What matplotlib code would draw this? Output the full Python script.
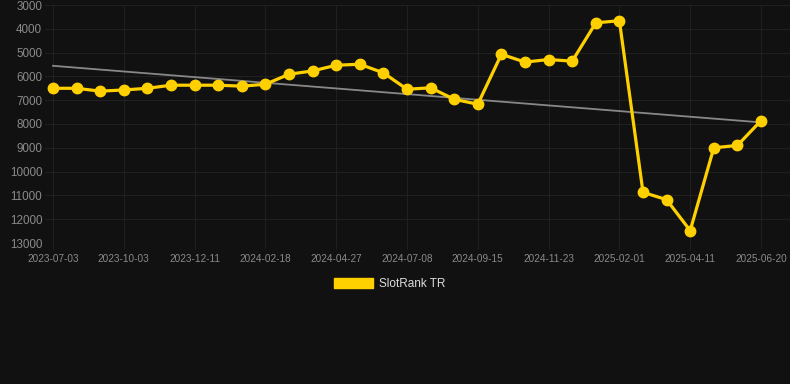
import numpy as np
import matplotlib.pyplot as plt

plt.rcParams['font.family'] = ['Liberation Sans', 'DejaVu Sans']

tick_labels = ['2023-07-03', '2023-10-03', '2023-12-11', '2024-02-18', '2024-04-27',
               '2024-07-08', '2024-09-15', '2024-11-23', '2025-02-01', '2025-04-11',
               '2025-06-20']

# SlotRank TR, one point per step, a label every 3rd step
rank = [6500, 6500, 6620, 6570, 6500, 6370, 6370, 6370, 6410, 6330,
        5910, 5770, 5530, 5490, 5850, 6540, 6480, 6960, 7170, 5070,
        5400, 5290, 5360, 3750, 3660, 10870, 11180, 12480, 9000, 8900,
        7860]

bg = '#111111'
yellow = '#FFD000'

x = np.arange(len(rank))
slope, icpt = np.polyfit(x, rank, 1)
trend = slope * x + icpt

fig = plt.figure(figsize=(7.9, 3.84), dpi=100, facecolor=bg)
ax = fig.add_axes([45/790, 1 - 243/384, 1 - 45/790, (243 - 5)/384])
ax.set_facecolor(bg)

ax.plot(x, trend, color='#888888', lw=1.3, zorder=2)
ax.plot(x, rank, color=yellow, lw=2.3, marker='o', ms=7.5, zorder=3)

ax.set_xlim(-8/23.6, 30 + 29/23.6)
ax.set_ylim(13000, 3000)
ax.set_yticks(range(3000, 13001, 1000))
ax.set_xticks(x[::3])
ax.set_xticklabels(tick_labels)

ax.grid(True, color='#202020', lw=0.8)
ax.set_axisbelow(True)
for s in ax.spines.values():
    s.set_visible(False)
ax.tick_params(axis='y', length=0, pad=2, labelsize=8.4, labelcolor='#8a8a8a')
ax.tick_params(axis='x', length=4, color='#202020', pad=4, labelsize=7.2, labelcolor='#8a8a8a')

# legend below the chart
handle = plt.Rectangle((0, 0), 1, 1, color=yellow)
leg = fig.legend([handle], ['SlotRank TR'], loc='center', bbox_to_anchor=(390/790, 1 - 284/384),
                 frameon=False, fontsize=8.5, handlelength=3.3, handleheight=0.9,
                 handletextpad=0.5)
for t in leg.get_texts():
    t.set_color('#dddddd')

fig.savefig('out.png', dpi=100, facecolor=bg)
